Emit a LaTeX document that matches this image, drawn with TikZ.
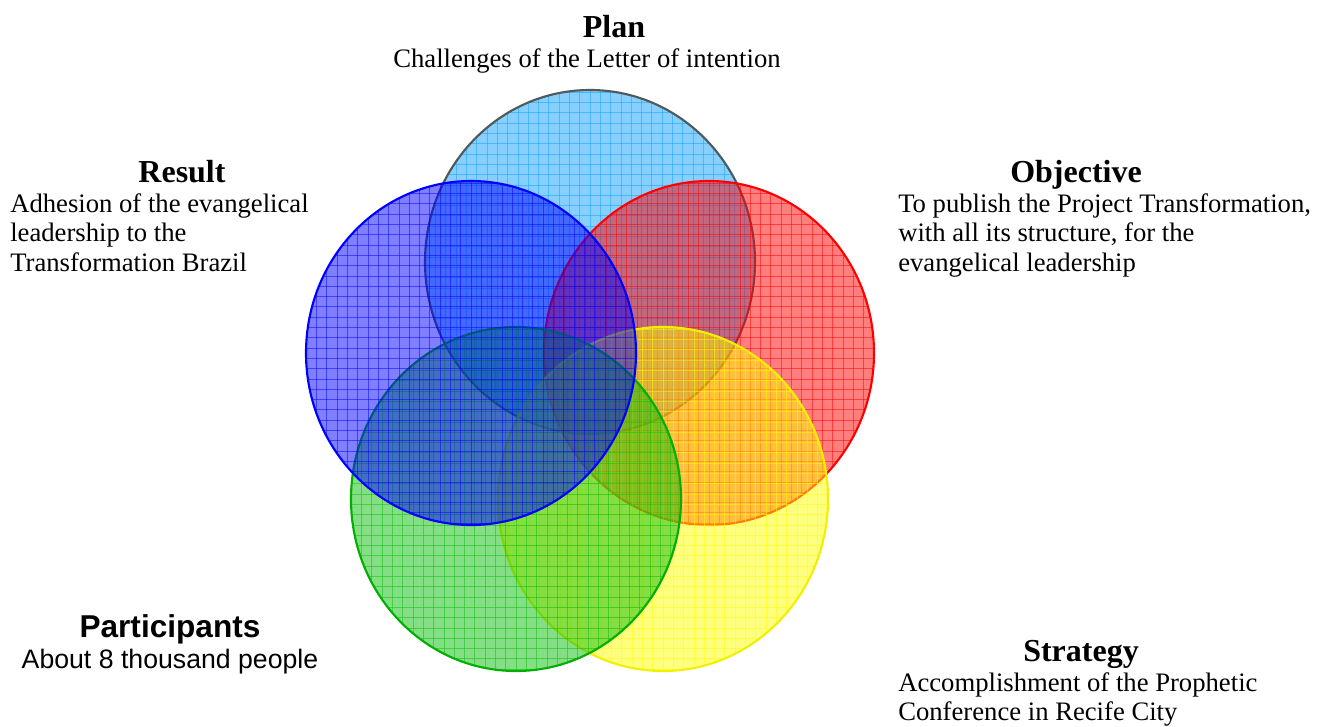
\documentclass[tikz,border=0pt]{standalone}
\usepackage{fontspec}
\setmainfont{Liberation Serif}
\newfontfamily\arialf{Liberation Sans}
\definecolor{planc}{RGB}{15,160,255}
\definecolor{planb}{RGB}{80,90,90}
\definecolor{redc}{RGB}{255,0,0}
\definecolor{bluec}{RGB}{0,0,255}
\definecolor{greenc}{RGB}{10,190,10}
\definecolor{greenb}{RGB}{0,175,0}
\definecolor{yellowc}{RGB}{255,255,0}
\definecolor{yellowb}{RGB}{240,240,0}
\tikzset{
  head/.style={font=\fontsize{24}{28}\selectfont\bfseries, inner sep=0pt, anchor=base},
  body/.style={font=\fontsize{20}{24}\selectfont, inner sep=0pt, anchor=base west},
  bodyc/.style={font=\fontsize{20}{24}\selectfont, inner sep=0pt, anchor=base},
}
\newcommand{\gridcircle}[4]{% x, y, fill color, border color
  \fill[#3, fill opacity=0.5] (#1,#2) ellipse [x radius=165, y radius=172];
  \begin{scope}
    \clip (#1,#2) ellipse [x radius=165, y radius=172];
    \foreach \k in {0,...,34} {
      \draw[#3, opacity=0.5, line width=0.75pt] ({#1-175+\k*10.3},{#2-180}) -- ({#1-175+\k*10.3},{#2+180});
      \draw[#3, opacity=0.5, line width=0.75pt] ({#1-175},{#2-180+\k*10.3}) -- ({#1+175},{#2-180+\k*10.3});
    }
  \end{scope}
  \draw[#4, line width=1.6pt] (#1,#2) ellipse [x radius=165, y radius=172];
}
\begin{document}
\begin{tikzpicture}[x=0.75pt, y=-0.75pt]
\useasboundingbox (0,0) rectangle (1317,726);
\gridcircle{590}{262}{planc}{planb}
\gridcircle{709}{353}{redc}{redc}
\gridcircle{663}{499}{yellowc}{yellowb}
\gridcircle{516}{499}{greenc}{greenb}
\gridcircle{471}{353}{bluec}{bluec}
% Plan
\node[head] (planh) at (614,37) {Plan};
\node[bodyc] (planb1) at (587,67) {Challenges of the Letter of intention};
% Result
\node[head] (resh) at (182,182) {Result};
\node[body] (res1) at (10,212) {Adhesion of the evangelical};
\node[body] (res2) at (10,241) {leadership to the};
\node[body] (res3) at (10,271) {Transformation Brazil};
% Objective
\node[head] (objh) at (1076,182) {Objective};
\node[body] (obj1) at (898,212) {To publish the Project Transformation,};
\node[body] (obj2) at (898,241) {with all its structure, for the};
\node[body] (obj3) at (898,271) {evangelical leadership};
% Participants
\node[head, font=\fontsize{23.7}{28}\selectfont\arialf\bfseries] (parth) at (170,637) {Participants};
\node[bodyc, font=\fontsize{20}{24}\selectfont\arialf] (part1) at (170,668) {About 8 thousand people};
% Strategy
\node[head] (strh) at (1081,661) {Strategy};
\node[body] (str1) at (898,691) {Accomplishment of the Prophetic};
\node[body] (str2) at (898,720) {Conference in Recife City};
\end{tikzpicture}
\end{document}
